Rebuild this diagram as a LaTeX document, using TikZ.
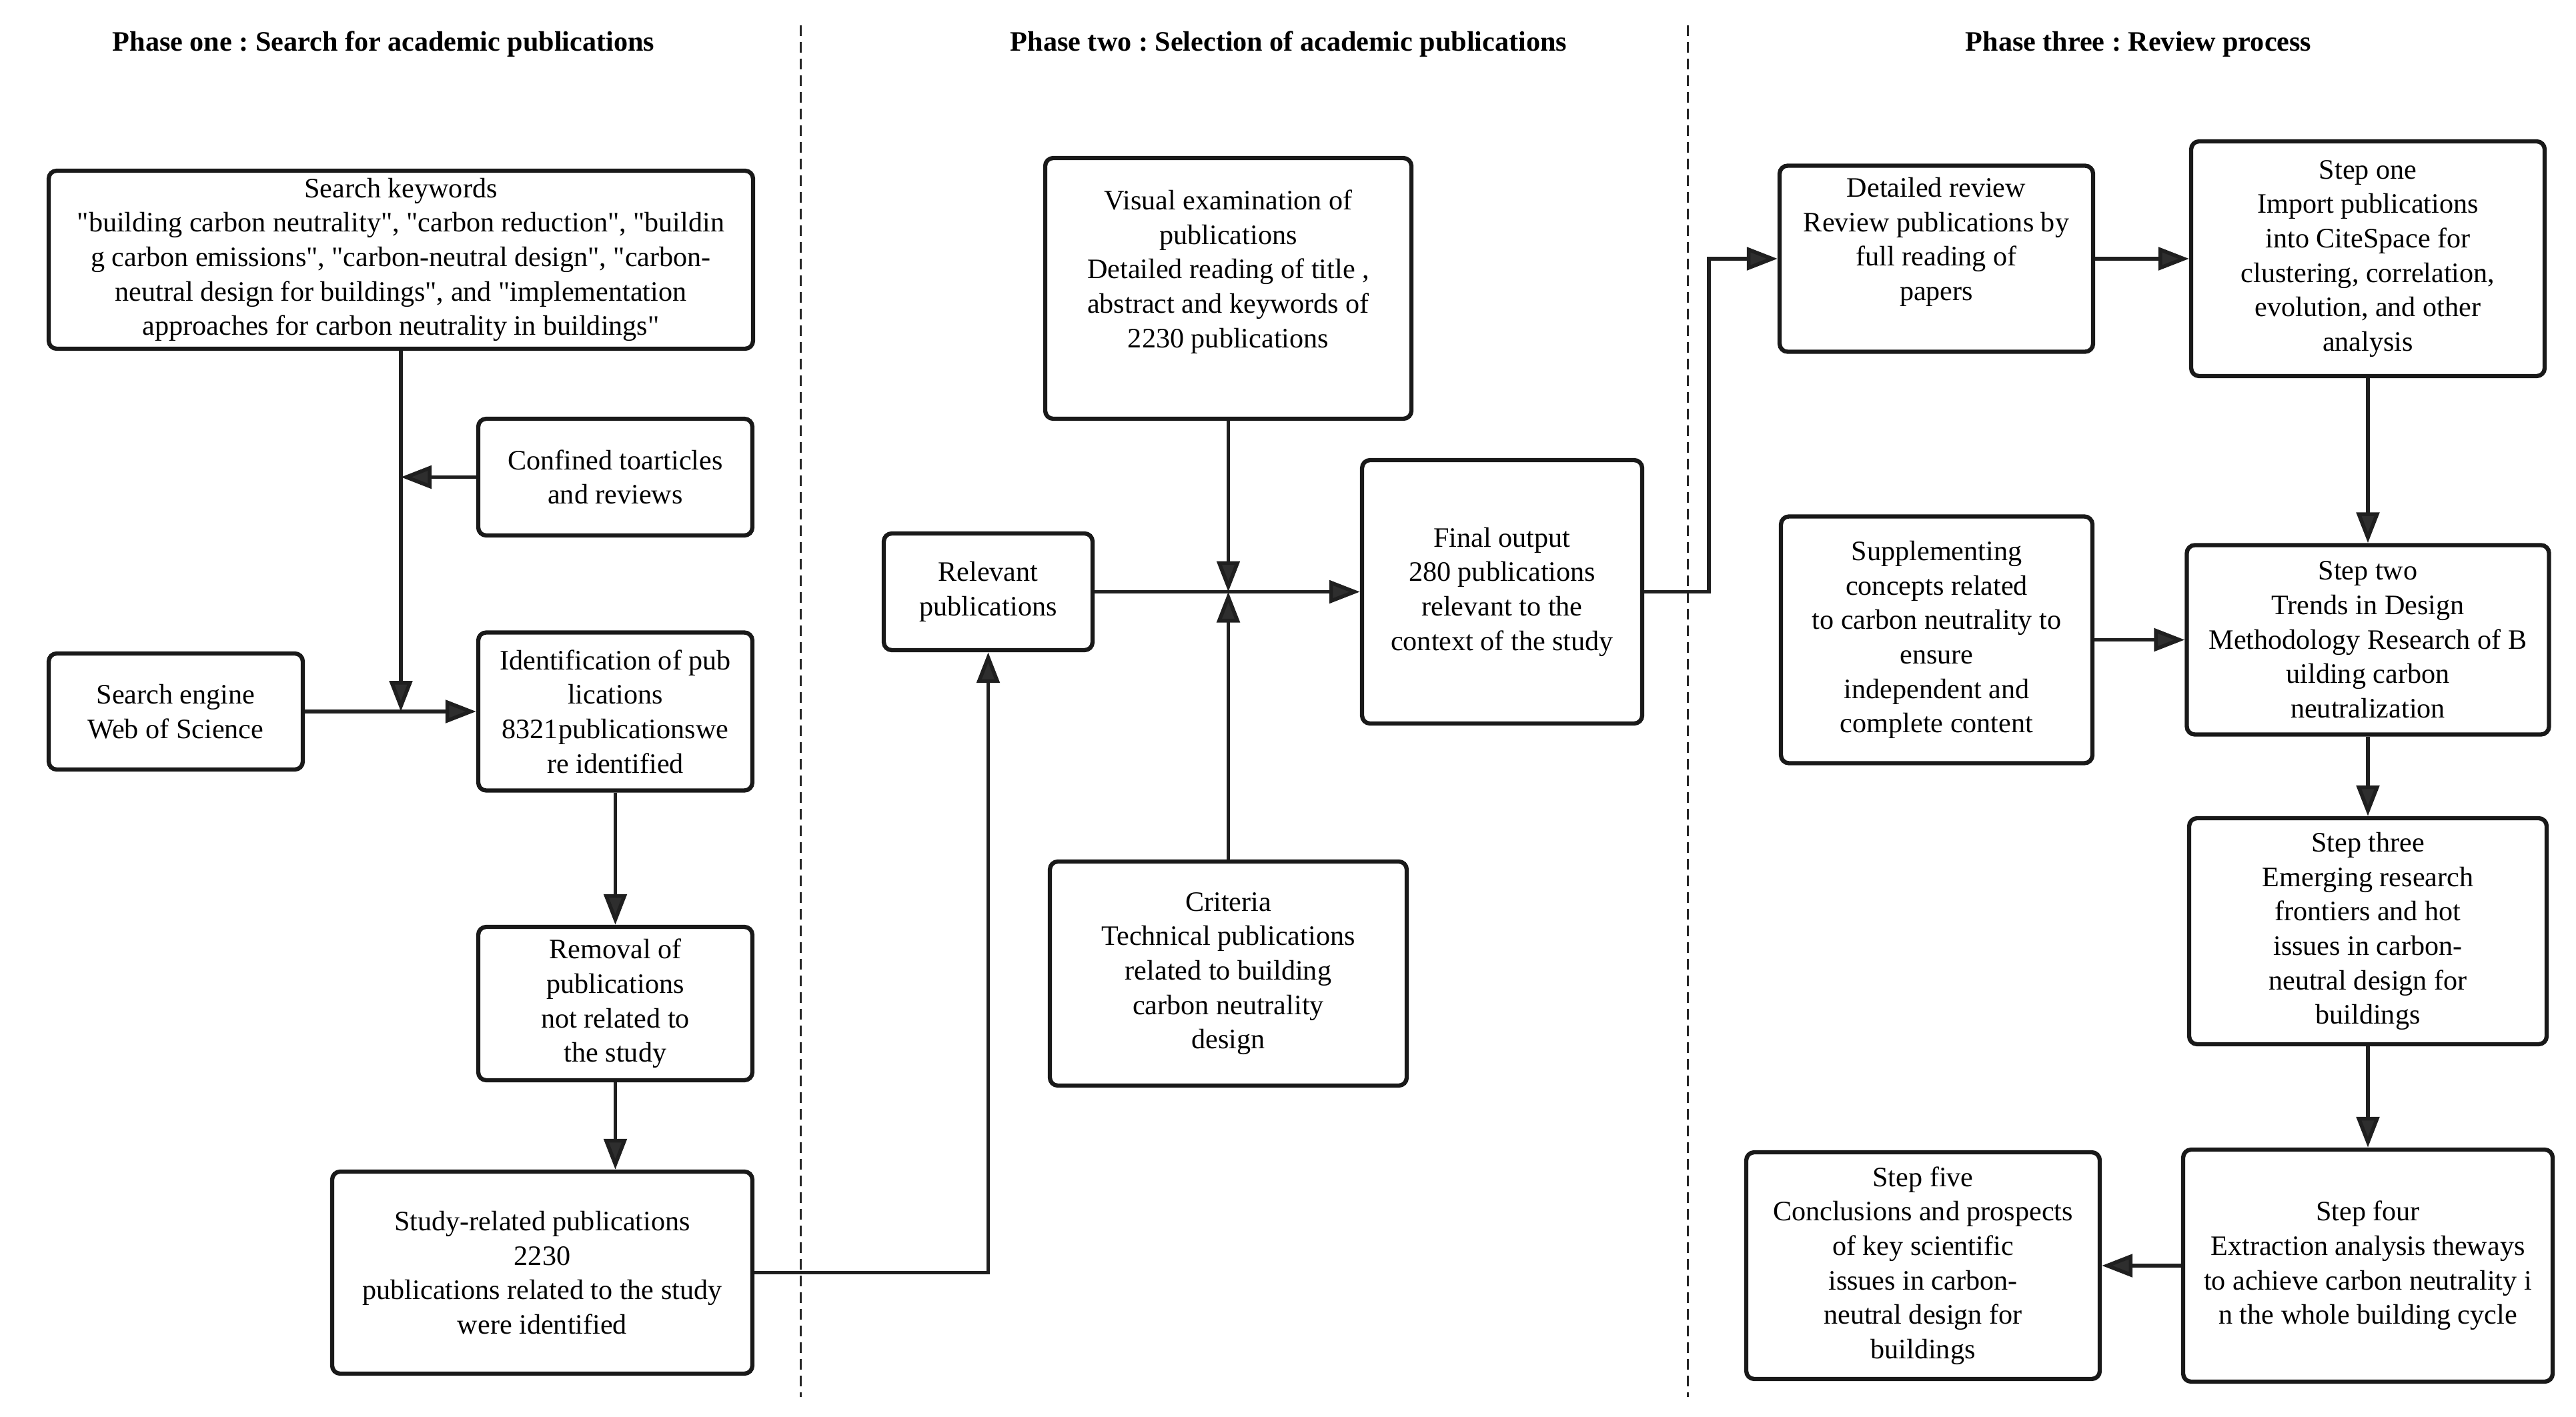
\documentclass[tikz,border=0pt]{standalone}
\usepackage{fontspec}
\setmainfont{Liberation Serif}[Ligatures=TeXOff]
\usetikzlibrary{arrows.meta}
\newcommand{\dq}{"}
\begin{document}
\frenchspacing
\begin{tikzpicture}[
  box/.style={draw=black!90, line width=1.8pt, rounded corners=0.12cm, fill=white, align=center, font=\fontsize{12}{14.7}\selectfont, inner sep=1pt},
  conn/.style={draw=black!88, line width=1.6pt},
  arr/.style={conn, -{Triangle[length=0.46cm, width=0.34cm, fill=black!82]}},
  ttl/.style={font=\bfseries\fontsize{12}{14}\selectfont, anchor=base},
  txt/.style={align=center, font=\fontsize{12}{14.7}\selectfont, inner sep=0pt},
  sepline/.style={line width=0.85pt, draw=black!85, dash pattern=on 0.16cm off 0.09cm}
]
\useasboundingbox (0,0) rectangle (38.62,-21.25);

% titles
\node[ttl] (t1) at (5.75,-0.77) {Phase one : Search for academic publications};
\node[ttl] (t2) at (19.32,-0.77) {Phase two : Selection of academic publications};
\node[ttl] (t3) at (32.06,-0.77) {Phase three : Review process};

% separators
\coordinate (d1a) at (12.00,-0.38); \coordinate (d1b) at (12.00,-20.95);
\coordinate (d2a) at (25.30,-0.38); \coordinate (d2b) at (25.30,-20.95);
\draw[sepline] (d1a) -- (d1b);
\draw[sepline] (d2a) -- (d2b);

% phase one
\node[box, minimum width=10.56cm, minimum height=2.67cm] (kw) at (6.01,-3.895) {Search keywords\\\dq building carbon neutrality\dq, \dq carbon reduction\dq, \dq buildin\\g carbon emissions\dq, \dq carbon-neutral design\dq, \dq carbon-\\neutral design for buildings\dq, and \dq implementation\\approaches for carbon neutrality in buildings\dq};
\node[box, minimum width=4.11cm, minimum height=1.75cm] (conf) at (9.225,-7.155) {Confined toarticles\\and reviews};
\node[box, minimum width=3.81cm, minimum height=1.74cm] (se) at (2.635,-10.67) {Search engine\\Web of Science};
\node[box, minimum width=4.11cm, minimum height=2.37cm] (ident) at (9.225,-10.67) {Identification of pub\\lications\\8321publicationswe\\re identified};
\node[box, minimum width=4.11cm, minimum height=2.30cm] (rem) at (9.225,-15.05) {Removal of\\publications\\not related to\\the study};
\node[box, minimum width=6.30cm, minimum height=3.03cm] (study) at (8.13,-19.085) {Study-related publications\\2230\\publications related to the study\\were identified};

% phase two
\node[box, minimum width=3.13cm, minimum height=1.75cm] (rel) at (14.815,-8.875) {Relevant\\publications};
\node[box, minimum width=5.49cm, minimum height=3.91cm] (vis) at (18.415,-4.325) {};
\node[txt] (vist) at ([yshift=0.25cm]vis.center) {Visual examination of\\publications\\Detailed reading of title ,\\abstract and keywords of\\2230 publications};
\node[box, minimum width=5.35cm, minimum height=3.36cm] (crit) at (18.415,-14.60) {Criteria\\Technical publications\\related to building\\carbon neutrality\\design};
\node[box, minimum width=4.20cm, minimum height=3.95cm] (fin) at (22.52,-8.875) {Final output\\280 publications\\relevant to the\\context of the study};

% phase three
\node[box, minimum width=4.70cm, minimum height=2.79cm] (det) at (29.03,-3.88) {};
\node[txt] (dett) at ([yshift=0.25cm]det.center) {Detailed review\\Review publications by\\full reading of\\papers};
\node[box, minimum width=5.30cm, minimum height=3.52cm] (s1) at (35.50,-3.88) {Step one\\Import publications\\into CiteSpace for\\clustering, correlation,\\evolution, and other\\analysis};
\node[box, minimum width=4.67cm, minimum height=3.70cm] (sup) at (29.035,-9.595) {Supplementing\\concepts related\\to carbon neutrality to\\ensure\\independent and\\complete content};
\node[box, minimum width=5.43cm, minimum height=2.84cm] (s2) at (35.50,-9.595) {Step two\\Trends in Design\\Methodology Research of B\\uilding carbon\\neutralization};
\node[box, minimum width=5.36cm, minimum height=3.39cm] (s3) at (35.50,-13.965) {Step three\\Emerging research\\frontiers and hot\\issues in carbon-\\neutral design for\\buildings};
\node[box, minimum width=5.54cm, minimum height=3.48cm] (s4) at (35.50,-18.98) {Step four\\Extraction analysis theways\\to achieve carbon neutrality i\\n the whole building cycle};
\node[box, minimum width=5.30cm, minimum height=3.40cm] (s5) at (28.83,-18.98) {Step five\\Conclusions and prospects\\of key scientific\\issues in carbon-\\neutral design for\\buildings};

% junction coordinates
\coordinate (j1) at (6.01,-10.67);
\coordinate (j2) at (6.01,-7.155);
\coordinate (jc) at (18.415,-8.875);
\coordinate (j3) at (25.62,-8.875);

% connectors phase one
\draw[arr] (kw.south) -- (j1);
\draw[arr] (conf.west) -- (j2);
\draw[arr] (se.east) -- (ident.west);
\draw[arr] (ident.south) -- (rem.north);
\draw[arr] (rem.south) -- (rem.south |- study.north);
\draw[arr] (study.east) -| (rel.south);

% connectors phase two
\draw[arr] (rel.east) -- (fin.west);
\draw[arr] (vis.south) -- (jc);
\draw[arr] (crit.north) -- (jc);
\draw[arr] (fin.east) -- (j3) |- (det.west);

% connectors phase three
\draw[arr] (det.east) -- (s1.west);
\draw[arr] (s1.south) -- (s2.north);
\draw[arr] (sup.east) -- (s2.west);
\draw[arr] (s2.south) -- (s3.north);
\draw[arr] (s3.south) -- (s4.north);
\draw[arr] (s4.west) -- (s5.east);
\end{tikzpicture}
\end{document}
